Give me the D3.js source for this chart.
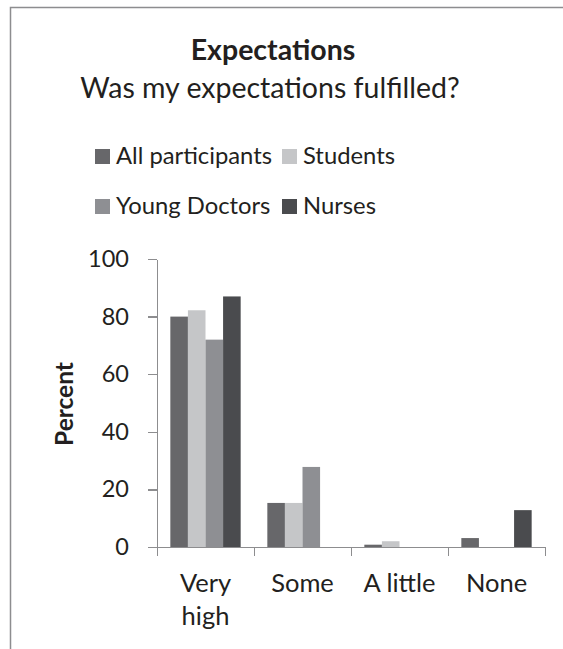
<!DOCTYPE html>
<title>Expectations</title>
<meta charset="utf-8">
<style>
body { margin: 0; background: #fff; font-family: Lato, "Open Sans", sans-serif; }
.axis path, .axis line { stroke: #8d8d8f; stroke-width: 1.5; shape-rendering: crispEdges; }
.axis text { fill: #231f20; font-family: Lato, sans-serif; }
</style>
<body>
<script src="https://d3js.org/d3.v7.min.js"></script>
<script>

// data
var categories = ["Very high", "Some", "A little", "None"];
var series = ["All participants", "Students", "Young Doctors", "Nurses"];
var allParticipants = [80, 15.3, 0.8, 3.1];
var students = [82.2, 15.3, 2, 0];
var youngDoctors = [72, 27.8, 0, 0];
var nurses = [87, 0, 0, 12.8];
var yTicks = [0, 20, 40, 60, 80, 100];

var values = [allParticipants, students, youngDoctors, nurses];
var colors = ["#67676a", "#c5c6c8", "#8e8f93", "#4a4b4e"];

var width = 563, height = 649;

var svg = d3.select("body").append("svg")
    .attr("width", width)
    .attr("height", height);

svg.append("rect").attr("width", width).attr("height", height).attr("fill", "#fff");

// chart frame (only left and top edges are visible)
svg.append("path")
    .attr("d", "M10.5,649V7.5H563")
    .attr("fill", "none")
    .attr("stroke", "#8d8d8f")
    .attr("stroke-width", 1.5);

// scales
var x = d3.scaleBand().domain(categories).range([157, 545]);
var x1 = d3.scaleBand().domain(series)
    .range([x.bandwidth() * 0.1375, x.bandwidth() * (1 - 0.1375)]);
var y = d3.scaleLinear().domain([0, 100]).range([547, 259]);

// bars
var rows = [];
categories.forEach(function(c, i) {
  series.forEach(function(s, j) {
    rows.push({cat: c, series: s, value: values[j][i], color: colors[j]});
  });
});

svg.append("g").selectAll("rect")
  .data(rows)
  .enter().append("rect")
    .attr("x", function(d) { return x(d.cat) + x1(d.series); })
    .attr("y", function(d) { return y(d.value); })
    .attr("width", x1.bandwidth())
    .attr("height", function(d) { return y(0) - y(d.value); })
    .attr("fill", function(d) { return d.color; });

// y axis
svg.append("g")
    .attr("class", "axis")
    .attr("transform", "translate(157,0)")
    .call(d3.axisLeft(y).tickValues(yTicks).tickSize(9).tickPadding(19).tickSizeOuter(0))
    .selectAll("text")
      .style("font-size", "23.5px");

// x axis: ticks between categories
var xEdges = d3.scaleLinear().domain([0, categories.length]).range(x.range());
svg.append("g")
    .attr("class", "axis")
    .attr("transform", "translate(0,547)")
    .call(d3.axisBottom(xEdges).tickValues(d3.range(categories.length + 1)).tickSize(9).tickFormat("").tickSizeOuter(0));

// x labels
var xl = svg.append("g")
    .attr("class", "axis")
    .attr("transform", "translate(0,547)")
    .call(d3.axisBottom(x).tickSize(0).tickSizeOuter(0));
xl.select(".domain").remove();
xl.selectAll("text")
    .attr("y", 45)
    .attr("dy", null)
    .style("font-size", "25.5px")
    .each(function(d) {
      var t = d3.select(this), words = d.split(" ");
      if (d === "Very high") {
        t.text(null);
        words.forEach(function(w, i) {
          t.append("tspan").attr("x", 0).attr("dy", i ? 33 : 0).text(w);
        });
      }
    });

// y title
svg.append("text")
    .attr("transform", "translate(73,404) rotate(-90)")
    .attr("text-anchor", "middle")
    .style("font-size", "24.5px")
    .style("font-weight", "bold")
    .attr("fill", "#231f20")
    .text("Percent");

// titles
svg.append("text")
    .attr("x", 273).attr("y", 60)
    .attr("text-anchor", "middle")
    .style("font-size", "28.5px")
    .style("font-weight", "bold")
    .attr("fill", "#231f20")
    .text("Expectations");
svg.append("text")
    .attr("x", 270).attr("y", 98)
    .attr("text-anchor", "middle")
    .style("font-size", "28.5px")
    .attr("fill", "#231f20")
    .text("Was my expectations fulfilled?");

// legend
var legend = svg.selectAll(".legend")
  .data(series)
  .enter().append("g")
    .attr("class", "legend")
    .attr("transform", function(d, i) {
      return "translate(" + (i % 2 ? 282 : 95) + "," + (i < 2 ? 164 : 214) + ")";
    });
legend.append("rect")
    .attr("y", -15)
    .attr("width", 15)
    .attr("height", 15)
    .attr("fill", function(d, i) { return colors[i]; });
legend.append("text")
    .attr("x", 21)
    .style("font-size", "23.8px")
    .attr("fill", "#231f20")
    .text(function(d) { return d; });

</script>
</body>
